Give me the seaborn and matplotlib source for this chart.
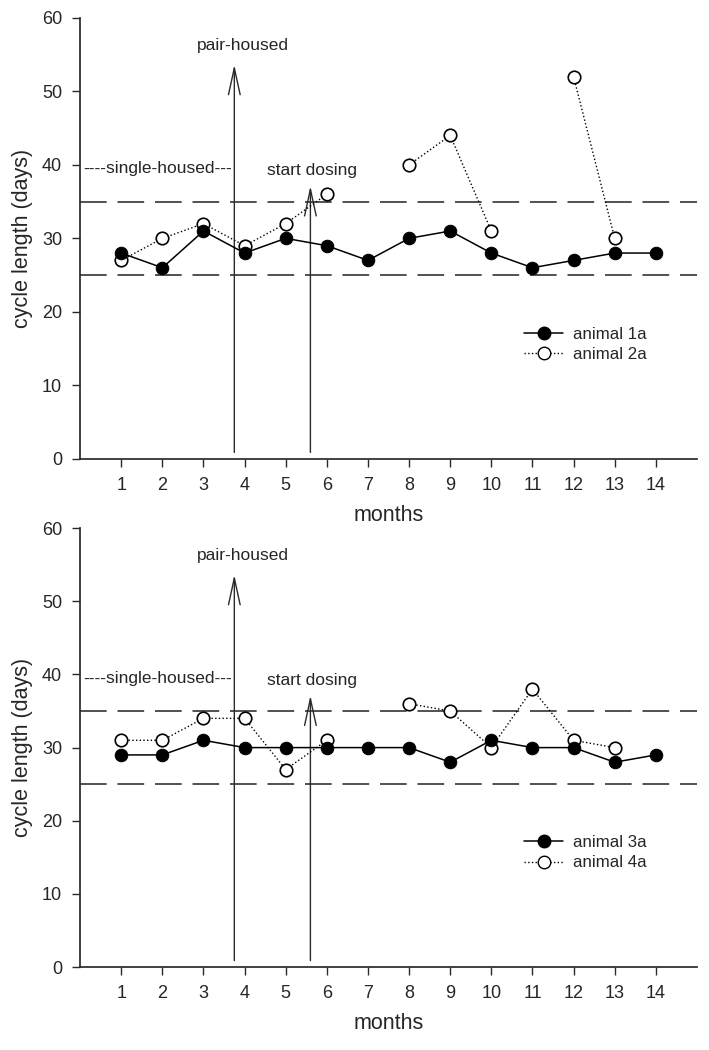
import matplotlib
matplotlib.use('Agg')

import matplotlib.pyplot as plt
import seaborn as sns
import numpy as np
import pandas as pd
from matplotlib.lines import Line2D

sns.set_theme(style="ticks")
plt.rcParams['font.family'] = ['Liberation Sans', 'DejaVu Sans']

months = list(range(1, 15))
nan = np.nan

# top panel
animal_1a = [28, 26, 31, 28, 30, 29, 27, 30, 31, 28, 26, 27, 28, 28]
animal_2a = [27, 30, 32, 29, 32, 36, nan, 40, 44, 31, nan, 52, 30, nan]
# bottom panel
animal_3a = [29, 29, 31, 30, 30, 30, 30, 30, 28, 31, 30, 30, 28, 29]
animal_4a = [31, 31, 34, 34, 27, 31, nan, 36, 35, 30, 38, 31, 30, nan]

normal_range = [25, 35]
pair_housed_month = 3.75
dosing_month = 5.6

panels = [
    (("animal 1a", animal_1a), ("animal 2a", animal_2a)),
    (("animal 3a", animal_3a), ("animal 4a", animal_4a)),
]


def to_frame(name, values):
    # split at gaps so missing months break the line
    seg, segs = 0, []
    for v in values:
        if np.isnan(v):
            seg += 1
        segs.append(seg)
    df = pd.DataFrame({'month': months, 'days': values, 'seg': segs})
    df['animal'] = name
    return df.dropna()


fig = plt.figure(figsize=(7.09, 10.5), dpi=100)
rects = [[0.113, 0.563, 0.870, 0.420], [0.113, 0.079, 0.870, 0.418]]
dark = '#2a2a2a'

for rect, (filled, hollow) in zip(rects, panels):
    ax = fig.add_axes(rect)

    for y in normal_range:
        ax.axhline(y, color='#333333', lw=1.2, dashes=(16, 6.5), zorder=1)

    df_f = to_frame(*filled)
    df_h = to_frame(*hollow)
    sns.lineplot(data=df_h, x='month', y='days', units='seg', estimator=None,
                 color='black', lw=1, linestyle=':', marker='o', markersize=9,
                 markerfacecolor='white', markeredgecolor='black',
                 markeredgewidth=1.2, ax=ax, zorder=3)
    sns.lineplot(data=df_f, x='month', y='days', units='seg', estimator=None,
                 color='black', lw=1.1, marker='o', markersize=9,
                 markerfacecolor='black', markeredgecolor='black', ax=ax,
                 zorder=4)

    # arrows
    ax.annotate('', xy=(pair_housed_month, 54), xytext=(pair_housed_month, 0.5),
                arrowprops=dict(arrowstyle='->,head_length=1.6,head_width=0.35',
                                color=dark, lw=1), zorder=2)
    ax.annotate('', xy=(dosing_month, 37.5), xytext=(dosing_month, 0.5),
                arrowprops=dict(arrowstyle='->,head_length=1.6,head_width=0.35',
                                color=dark, lw=1), zorder=2)
    ax.text(pair_housed_month + 0.2, 56.2, 'pair-housed', ha='center',
            va='center', fontsize=12.5)
    ax.text(dosing_month + 0.05, 39.2, 'start dosing', ha='center',
            va='center', fontsize=12.5)
    ax.text(0.08, 39.5, '----single-housed---', ha='left', va='center',
            fontsize=12.5)

    ax.set_xlim(0, 15)
    ax.set_ylim(0, 60)
    ax.set_xticks(months)
    ax.set_yticks(range(0, 61, 10))
    ax.tick_params(labelsize=13, length=6, width=1, color=dark, pad=7)
    ax.set_xlabel('months', fontsize=15.5, labelpad=8)
    ax.set_ylabel('cycle length (days)', fontsize=15.5, labelpad=6)
    sns.despine(ax=ax)
    for s in ['left', 'bottom']:
        ax.spines[s].set_color(dark)

    handles = [
        Line2D([], [], color='black', lw=1.1, marker='o', markersize=9,
               markerfacecolor='black'),
        Line2D([], [], color='black', lw=1, linestyle=':', marker='o',
               markersize=9, markerfacecolor='white'),
    ]
    ax.legend(handles, [filled[0], hollow[0]], loc='upper left',
              bbox_to_anchor=(0.72, 0.30), frameon=False, fontsize=12.2,
              handlelength=2.3, handletextpad=0.6, labelspacing=0.3,
              borderpad=0, borderaxespad=0)

fig.savefig('out.png', dpi=100)
